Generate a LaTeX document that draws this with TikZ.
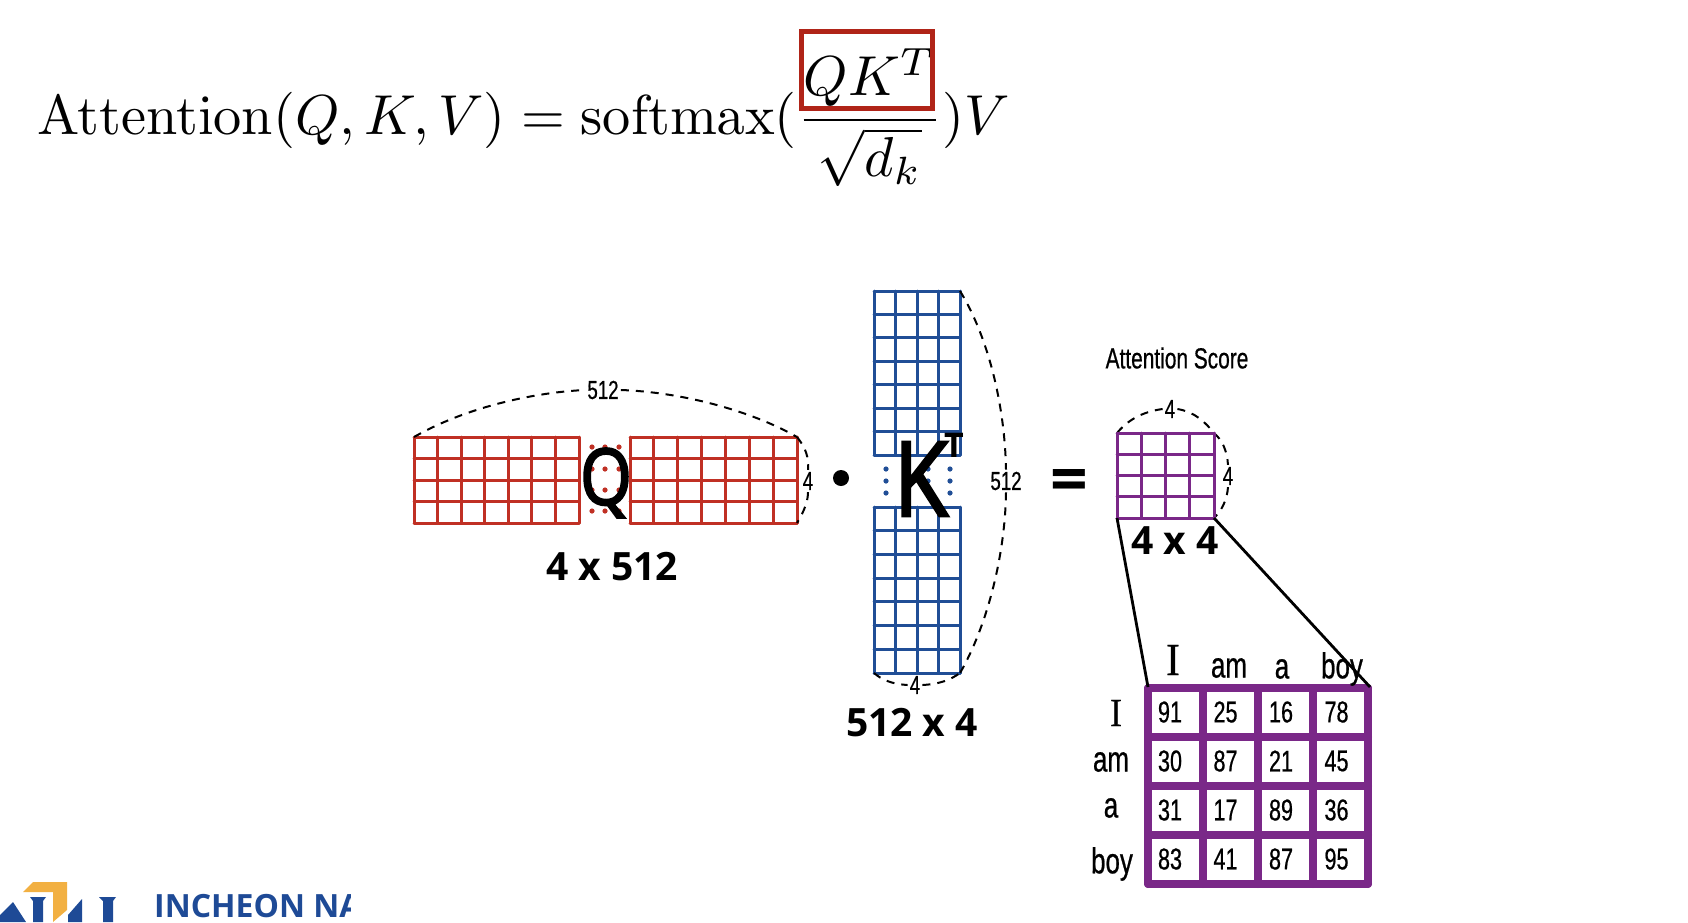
\documentclass[tikz,border=0pt]{standalone}
\usepackage{amsmath, amssymb}
\usepackage[no-math]{fontspec}
\usepackage{tikz}
\newfontfamily\labelfont{Open Sans}
\newfontfamily\markfont[FakeBold=2.5,FakeStretch=0.85]{Open Sans}
\newfontfamily\handfont[FakeStretch=0.72,FakeBold=0.6]{Liberation Sans}
\newfontfamily\handserif[FakeStretch=0.9,FakeBold=0.6]{Liberation Serif}
\definecolor{qRed}{RGB}{192, 48, 36}
\definecolor{kBlue}{RGB}{32, 78, 150}
\definecolor{scorePurple}{RGB}{122, 40, 136}
\definecolor{boxRed}{RGB}{176, 36, 24}
\definecolor{logoBlue}{RGB}{30, 74, 150}
\definecolor{logoGold}{RGB}{242, 176, 66}
\newcommand{\cellgrid}[7]{
  \foreach \i in {0,...,#5}
    \draw[#7, line cap=round] ({#1+\i*(#3-#1)/#5},#2) -- ({#1+\i*(#3-#1)/#5},#4);
  \foreach \j in {0,...,#6}
    \draw[#7, line cap=round] (#1,{#2+\j*(#4-#2)/#6}) -- (#3,{#2+\j*(#4-#2)/#6});
}
\tikzset{
  dimline/.style={black, line width=2pt, dash pattern=on 8pt off 7pt},
  handtext/.style={inner sep=2pt, text=black, font=\handfont\fontsize{26}{26}\selectfont},
  sizetext/.style={inner sep=0pt, font=\labelfont\bfseries\fontsize{39}{39}\selectfont},
  celltext/.style={inner sep=0pt, font=\handfont\fontsize{30}{30}\selectfont},
  wordtext/.style={inner sep=0pt, font=\handfont\fontsize{36}{36}\selectfont},
  pairline/.style={black, line width=2.8pt}
}

\begin{document}
\begin{tikzpicture}[x=1pt,y=-1pt]
  \useasboundingbox (0,0) rectangle (1688,922);

  % formula
  \node[anchor=base west, inner sep=0pt] (formula) at (37,134) {\scalebox{5.63}{\fontsize{10}{12}\selectfont
    $\displaystyle \mathrm{Attention}(Q,K,V)=\mathrm{softmax}(\frac{QK^T}{\sqrt{d_k}})V$}};
  \node[draw=boxRed, line width=5pt, minimum width=131pt, minimum height=77pt, inner sep=0pt] (qkBox) at (867,70) {};

  % Q
  \cellgrid{414}{437}{579}{523}{7}{4}{qRed, line width=3pt}
  \cellgrid{630}{437}{797}{523}{7}{4}{qRed, line width=3pt}
  \foreach \x in {592,605,619}
    \foreach \y in {447,469,490,511}
      \fill[qRed] (\x,\y) circle (2.6);
  \node[inner sep=0pt, font=\markfont\fontsize{78}{78}\selectfont] (qLetter) at (606,483) {Q};

  % K
  \cellgrid{874}{291}{960}{455}{4}{7}{kBlue, line width=3pt}
  \cellgrid{874}{507}{960}{673}{4}{7}{kBlue, line width=3pt}
  \foreach \x in {886,907,928,950}
    \foreach \y in {469,481,493}
      \fill[kBlue] (\x,\y) circle (2.6);
  \node[inner sep=0pt, font=\markfont\fontsize{104}{104}\selectfont] (kLetter) at (921,479) {K};
  \node[inner sep=0pt, font=\labelfont\bfseries\fontsize{34}{34}\selectfont] (kSup) at (954,445) {T};

  % corners for the dashed arcs
  \coordinate (qTL) at (414,437);
  \coordinate (qTR) at (797,437);
  \coordinate (qBR) at (797,523);
  \coordinate (kTR) at (960,291);
  \coordinate (kBR) at (960,673);
  \coordinate (kBL) at (874,673);
  \coordinate (sTL) at (1117,433);
  \coordinate (sTR) at (1214,433);
  \coordinate (sBR) at (1214,518);
  \coordinate (sBL) at (1117,518);

  \node[handtext] (qTop) at (603,390) {512};
  \node[handtext] (qSide) at (808,481) {4};
  \node[handtext] (kSide) at (1006,481) {512};
  \node[handtext] (kBottom) at (915,685) {4};
  \node[handtext] (sTop) at (1170,409) {4};
  \node[handtext] (sSide) at (1228,476) {4};

  \draw[dimline] (qTL) .. controls (470,405) and (540,392) .. (qTop.west);
  \draw[dimline] (qTop.east) .. controls (680,392) and (750,410) .. (qTR);
  \draw[dimline] (qTR) .. controls (806,448) and (809,458) .. (qSide.north);
  \draw[dimline] (qSide.south) .. controls (808,500) and (805,510) .. (qBR);
  \draw[dimline] (kTR) .. controls (990,340) and (1005,410) .. (kSide.north);
  \draw[dimline] (kSide.south) .. controls (1005,560) and (985,630) .. (kBR);
  \draw[dimline] (kBL) .. controls (882,680) and (892,684) .. (kBottom.west);
  \draw[dimline] (kBottom.east) .. controls (940,684) and (950,680) .. (kBR);
  \draw[dimline] (sTL) .. controls (1126,422) and (1140,412) .. (sTop.west);
  \draw[dimline] (sTop.east) .. controls (1195,412) and (1205,422) .. (sTR);
  \draw[dimline] (sTR) .. controls (1222,440) and (1227,450) .. (sSide.north);
  \draw[dimline] (sSide.south) .. controls (1227,500) and (1222,510) .. (sBR);

  % operators
  \node[circle, fill=black, minimum size=16pt, inner sep=0pt] (dotOp) at (841,478) {};
  \node[inner sep=0pt, font=\labelfont\bfseries\fontsize{66}{66}\selectfont] (eqOp) at (1069,486) {=};

  % score
  \cellgrid{1117}{433}{1214}{518}{4}{4}{scorePurple, line width=3pt}
  \node[inner sep=0pt, font=\handfont\fontsize{29}{29}\selectfont] (scoreTitle) at (1177,358) {Attention Score};

  \node[sizetext] (qSize) at (612,567) {4 x 512};
  \node[sizetext] (kSize) at (912,723) {512 x 4};
  \node[sizetext] (sSize) at (1175,541) {4 x 4};

  % table
  \cellgrid{1148}{688}{1368}{884}{4}{4}{scorePurple, line width=8pt}
  \coordinate (tTL) at (1148,687);
  \coordinate (tTR) at (1370,687);
  \draw[pairline] (sBL) -- (tTL);
  \draw[pairline] (sBR) -- (tTR);

  \foreach \val [count=\n from 0] in {91,25,16,78,30,87,21,45,31,17,89,36,83,41,87,95} {
    \pgfmathsetmacro{\cx}{1170+55.5*mod(\n,4)}
    \pgfmathsetmacro{\cy}{712+49*int(\n/4)}
    \node[celltext] (cell\n) at (\cx,\cy) {\val};
  }
  \node[wordtext, font=\handserif\fontsize{46}{46}\selectfont] (colI) at (1173,660) {I};
  \node[wordtext] (colAm) at (1229,668) {am};
  \node[wordtext] (colA) at (1282,669) {a};
  \node[wordtext] (colBoy) at (1342,669) {boy};
  \node[wordtext, font=\handserif\fontsize{40}{40}\selectfont] (rowI) at (1116,713) {I};
  \node[wordtext] (rowAm) at (1111,762) {am};
  \node[wordtext] (rowA) at (1111,808) {a};
  \node[wordtext] (rowBoy) at (1112,864) {boy};

  % logo
  \fill[logoGold] (23,892) -- (33,882) -- (67,882) -- (67,910) -- (53,922) -- (53,892) -- cycle;
  \fill[logoBlue] (0,915) -- (13,902) -- (26,922) -- (0,922) -- cycle;
  \fill[logoBlue] (30,897) -- (46,897) -- (43,901) -- (43,922) -- (33,922) -- (33,901) -- cycle;
  \fill[logoBlue] (68,915) -- (82,899) -- (82,922) -- (68,922) -- cycle;
  \fill[logoBlue] (99,897) -- (116,897) -- (113,901) -- (113,922) -- (103,922) -- (103,901) -- cycle;
  \begin{scope}
    \clip (150,880) rectangle (350,922);
    \node[anchor=base west, inner sep=0pt, text=logoBlue, font=\labelfont\bfseries\fontsize{32}{32}\selectfont] (logoText) at (154,917) {INCHEON NA};
  \end{scope}
\end{tikzpicture}
\end{document}
